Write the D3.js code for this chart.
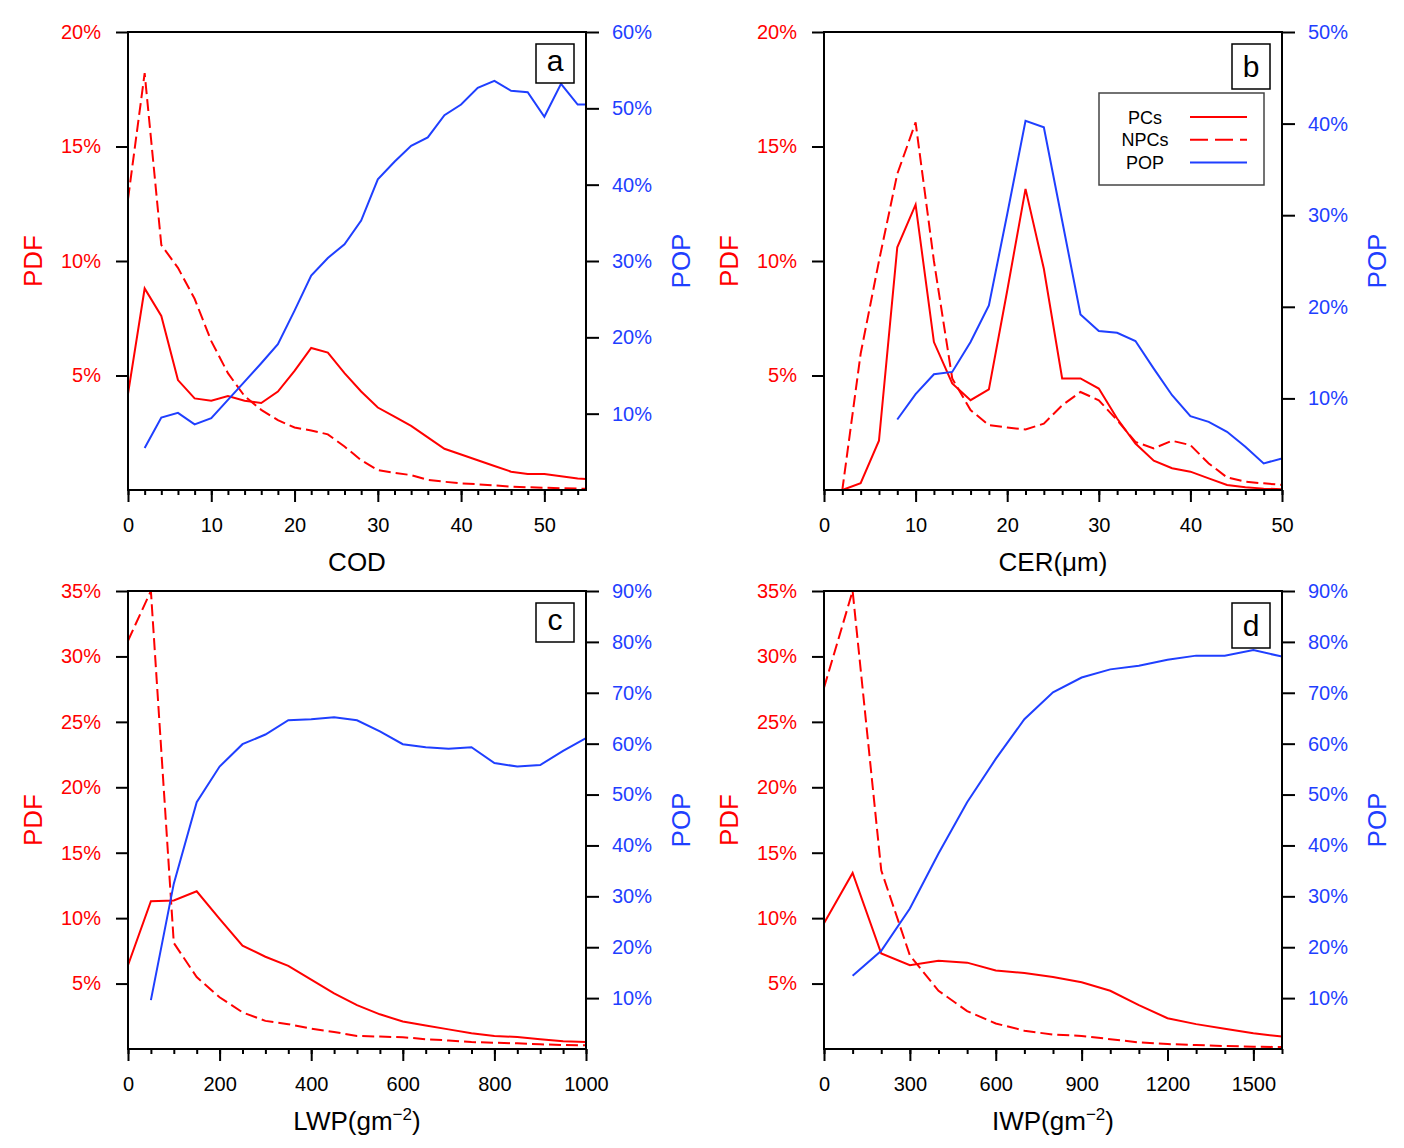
<!DOCTYPE html>
<html>
<head>
<meta charset="utf-8">
<script src="https://cdn.jsdelivr.net/npm/d3@7"></script>
<style>
  body { margin: 0; background: #fff; }
  text { font-family: "Liberation Sans", Arial, Helvetica, sans-serif; }
</style>
</head>
<body>
<div id="chart"></div>
<script>
// ---- data ----
// panel a: COD
var codX     = [0,2,4,6,8,10,12,14,16,18,20,22,24,26,28,30,32,34,36,38,40,42,44,46,48,50,52,54,56];
var codPCs   = [4.2,8.8,7.6,4.8,4.0,3.9,4.1,3.9,3.8,4.3,5.2,6.2,6.0,5.1,4.3,3.6,3.2,2.8,2.3,1.8,1.55,1.3,1.05,0.8,0.7,0.7,0.6,0.5,0.45];
var codNPCs  = [12.7,18.2,10.7,9.7,8.35,6.5,5.1,4.1,3.5,3.05,2.73,2.6,2.43,1.9,1.3,0.87,0.75,0.65,0.44,0.36,0.29,0.25,0.2,0.15,0.12,0.1,0.08,0.06,0.05];
var codPOP   = [null,5.5,9.5,10.1,8.6,9.4,11.8,14.2,16.6,19.1,23.5,28.1,30.4,32.2,35.3,40.7,43.0,45.1,46.2,49.1,50.5,52.7,53.6,52.3,52.1,48.9,53.2,50.5,50.5];

// panel b: CER
var cerX     = [0,2,4,6,8,10,12,14,16,18,20,22,24,26,28,30,32,34,36,38,40,42,44,46,48,50];
var cerPCs   = [0,0,0.3,2.15,10.6,12.46,6.46,4.65,3.92,4.39,8.7,13.15,9.66,4.87,4.87,4.43,3.12,2.03,1.28,0.95,0.8,0.51,0.22,0.12,0.06,0.03];
var cerNPCs  = [0,0,5.95,10.0,13.8,16.05,10.0,4.87,3.49,2.83,2.73,2.64,2.9,3.7,4.28,3.92,3.05,2.1,1.82,2.15,1.96,1.16,0.55,0.36,0.29,0.22];
var cerPOP   = [null,null,null,null,7.7,10.46,12.64,12.89,16.15,20.15,30.1,40.3,39.6,29.4,19.17,17.36,17.17,16.27,13.25,10.35,8.06,7.44,6.35,4.72,2.9,3.45];

// panel c: LWP
var lwpX     = [0,50,100,150,200,250,300,350,400,450,500,550,600,650,700,750,800,850,900,950,1000];
var lwpPCs   = [6.4,11.3,11.35,12.05,9.95,7.9,7.05,6.35,5.3,4.25,3.35,2.65,2.1,1.8,1.5,1.2,1.0,0.92,0.75,0.6,0.53];
var lwpNPCs  = [31.2,35.0,8.1,5.5,3.95,2.8,2.15,1.9,1.55,1.3,1.0,0.95,0.9,0.75,0.65,0.53,0.48,0.43,0.36,0.3,0.28];
var lwpPOP   = [null,9.6,32.5,48.5,55.5,59.9,61.8,64.6,64.8,65.2,64.6,62.4,59.9,59.3,59.0,59.3,56.2,55.5,55.8,58.6,61.1];

// panel d: IWP
var iwpX     = [0,100,200,300,400,500,600,700,800,900,1000,1100,1200,1300,1400,1500,1600];
var iwpPCs   = [9.6,13.45,7.3,6.4,6.75,6.6,6.0,5.8,5.5,5.1,4.45,3.35,2.35,1.9,1.55,1.2,0.95];
var iwpNPCs  = [27.6,35.0,13.65,7.15,4.45,2.9,1.95,1.4,1.1,1.0,0.75,0.5,0.38,0.3,0.23,0.18,0.15];
var iwpPOP   = [null,14.4,19.3,27.6,38.4,48.5,57.0,64.8,70.1,73.0,74.6,75.3,76.5,77.3,77.3,78.4,77.1];

// tick labels
var codTicks = [0,10,20,30,40,50];
var cerTicks = [0,10,20,30,40,50];
var lwpTicks = [0,200,400,600,800,1000];
var iwpTicks = [0,300,600,900,1200,1500];
var pdfTicksAB = [5,10,15,20];
var pdfTicksCD = [5,10,15,20,25,30,35];
var popTicksA = [10,20,30,40,50,60];
var popTicksB = [10,20,30,40,50];
var popTicksCD = [10,20,30,40,50,60,70,80,90];

var legendNames = ["PCs", "NPCs", "POP"];

// ---- layout ----
var W = 458, H = 458;
var RED = "#ff0000", BLUE = "#1f3fff";

var svg = d3.select("#chart").append("svg")
  .attr("width", 1404)
  .attr("height", 1148);

function drawPanel(p) {
  var g = svg.append("g").attr("transform", `translate(${p.left}, ${p.top})`);

  var x = d3.scaleLinear().domain(p.xDomain).range([0, W]);
  var yL = d3.scaleLinear().domain([0, p.pdfMax]).range([H, 0]);
  var yR = d3.scaleLinear().domain([0, p.popMax]).range([H, 0]);

  var clipId = "clip-" + p.letter;
  g.append("clipPath").attr("id", clipId)
    .append("rect").attr("width", W).attr("height", H);

  // data lines
  var rows = p.xs.map(function(v, i) {
    return { x: v, pcs: p.pcs[i], npcs: p.npcs[i], pop: p.pop[i] };
  });
  var lines = g.append("g").attr("clip-path", `url(#${clipId})`);

  lines.append("path").datum(rows)
    .attr("fill", "none").attr("stroke", RED).attr("stroke-width", 2)
    .attr("stroke-dasharray", "12,5")
    .attr("d", d3.line().x(d => x(d.x)).y(d => yL(d.npcs)));

  lines.append("path").datum(rows)
    .attr("fill", "none").attr("stroke", RED).attr("stroke-width", 2)
    .attr("d", d3.line().x(d => x(d.x)).y(d => yL(d.pcs)));

  lines.append("path").datum(rows)
    .attr("fill", "none").attr("stroke", BLUE).attr("stroke-width", 2)
    .attr("d", d3.line().defined(d => d.pop != null).x(d => x(d.x)).y(d => yR(d.pop)));

  // axes
  var leftAxis = d3.axisLeft(yL).tickValues(p.pdfTicks).tickSize(12).tickPadding(15)
    .tickSizeOuter(0).tickFormat(d => d + "%");
  var rightAxis = d3.axisRight(yR).tickValues(p.popTicks).tickSize(13).tickPadding(13)
    .tickSizeOuter(0).tickFormat(d => d + "%");
  var bottomAxis = d3.axisBottom(x).tickValues(p.xTicks).tickSize(12).tickPadding(16)
    .tickSizeOuter(0).tickFormat(d3.format("d"));
  var minorAxis = d3.axisBottom(x).tickValues(p.xMinor).tickSize(5)
    .tickSizeOuter(0).tickFormat("");

  var la = g.append("g").call(leftAxis);
  la.selectAll("text").attr("fill", RED);
  var ra = g.append("g").attr("transform", `translate(${W}, 0)`).call(rightAxis);
  ra.selectAll("text").attr("fill", BLUE);
  var ba = g.append("g").attr("transform", `translate(0, ${H})`).call(bottomAxis);
  ba.selectAll("text").attr("fill", "#000");
  g.append("g").attr("transform", `translate(0, ${H})`).call(minorAxis);

  g.selectAll(".tick line").attr("stroke", "#000").attr("stroke-width", 2);
  g.selectAll(".domain").remove();
  g.selectAll(".tick text")
    .attr("font-size", 20)
    .attr("font-family", '"Liberation Sans", Arial, sans-serif');

  // frame
  g.append("rect").attr("width", W).attr("height", H)
    .attr("fill", "none").attr("stroke", "#000").attr("stroke-width", 2);

  // axis titles
  g.append("text")
    .attr("transform", `translate(-95, ${H / 2}) rotate(-90)`)
    .attr("text-anchor", "middle").attr("dominant-baseline", "central")
    .attr("font-size", 26).attr("fill", RED)
    .text("PDF");
  g.append("text")
    .attr("transform", `translate(${W + 95}, ${H / 2}) rotate(-90)`)
    .attr("text-anchor", "middle").attr("dominant-baseline", "central")
    .attr("font-size", 26).attr("fill", BLUE)
    .text("POP");

  var xt = g.append("text")
    .attr("x", W / 2).attr("y", H + 81)
    .attr("text-anchor", "middle").attr("font-size", 26);
  xt.append("tspan").text(p.xLabel);
  if (p.xSup) {
    xt.append("tspan").attr("dy", -10).attr("font-size", 17).text(p.xSup);
    xt.append("tspan").attr("dy", 10).text(")");
  }

  // panel letter box
  var tall = (p.letter === "b" || p.letter === "d");
  var bh = tall ? 45 : 39, bw = 38;
  g.append("rect")
    .attr("x", W - 12 - bw).attr("y", 12)
    .attr("width", bw).attr("height", bh)
    .attr("fill", "#fff").attr("stroke", "#000").attr("stroke-width", 1.5);
  g.append("text")
    .attr("x", W - 12 - bw / 2).attr("y", 12 + bh - 12)
    .attr("text-anchor", "middle").attr("font-size", 30)
    .text(p.letter);

  // legend
  if (p.legend) {
    var lg = g.append("g").attr("transform", "translate(275, 61)");
    lg.append("rect").attr("width", 165).attr("height", 92)
      .attr("fill", "#fff").attr("stroke", "#444").attr("stroke-width", 1.5);
    var styles = [
      { color: RED, dash: null },
      { color: RED, dash: "18,7" },
      { color: BLUE, dash: null }
    ];
    legendNames.forEach(function(name, i) {
      var cy = 24 + i * 22.7;
      lg.append("text").attr("x", 46).attr("y", cy + 6.5)
        .attr("text-anchor", "middle").attr("font-size", 18).text(name);
      lg.append("line").attr("x1", 91).attr("x2", 148)
        .attr("y1", cy).attr("y2", cy)
        .attr("stroke", styles[i].color).attr("stroke-width", 2)
        .attr("stroke-dasharray", styles[i].dash);
    });
  }
}

drawPanel({
  letter: "a", left: 128, top: 32,
  xDomain: [0, 55], xTicks: codTicks, xMinor: d3.range(0, 56, 2),
  pdfMax: 20, pdfTicks: pdfTicksAB, popMax: 60, popTicks: popTicksA,
  xs: codX, pcs: codPCs, npcs: codNPCs, pop: codPOP,
  xLabel: "COD"
});

drawPanel({
  letter: "b", left: 824, top: 32,
  xDomain: [0, 50], xTicks: cerTicks, xMinor: d3.range(0, 51, 2),
  pdfMax: 20, pdfTicks: pdfTicksAB, popMax: 50, popTicks: popTicksB,
  xs: cerX, pcs: cerPCs, npcs: cerNPCs, pop: cerPOP,
  xLabel: "CER(\u03bcm)", legend: true
});

drawPanel({
  letter: "c", left: 128, top: 591,
  xDomain: [0, 1000], xTicks: lwpTicks, xMinor: d3.range(0, 1001, 50),
  pdfMax: 35, pdfTicks: pdfTicksCD, popMax: 90, popTicks: popTicksCD,
  xs: lwpX, pcs: lwpPCs, npcs: lwpNPCs, pop: lwpPOP,
  xLabel: "LWP(gm", xSup: "\u22122"
});

drawPanel({
  letter: "d", left: 824, top: 591,
  xDomain: [0, 1600], xTicks: iwpTicks, xMinor: d3.range(0, 1601, 100),
  pdfMax: 35, pdfTicks: pdfTicksCD, popMax: 90, popTicks: popTicksCD,
  xs: iwpX, pcs: iwpPCs, npcs: iwpNPCs, pop: iwpPOP,
  xLabel: "IWP(gm", xSup: "\u22122"
});
</script>
</body>
</html>
